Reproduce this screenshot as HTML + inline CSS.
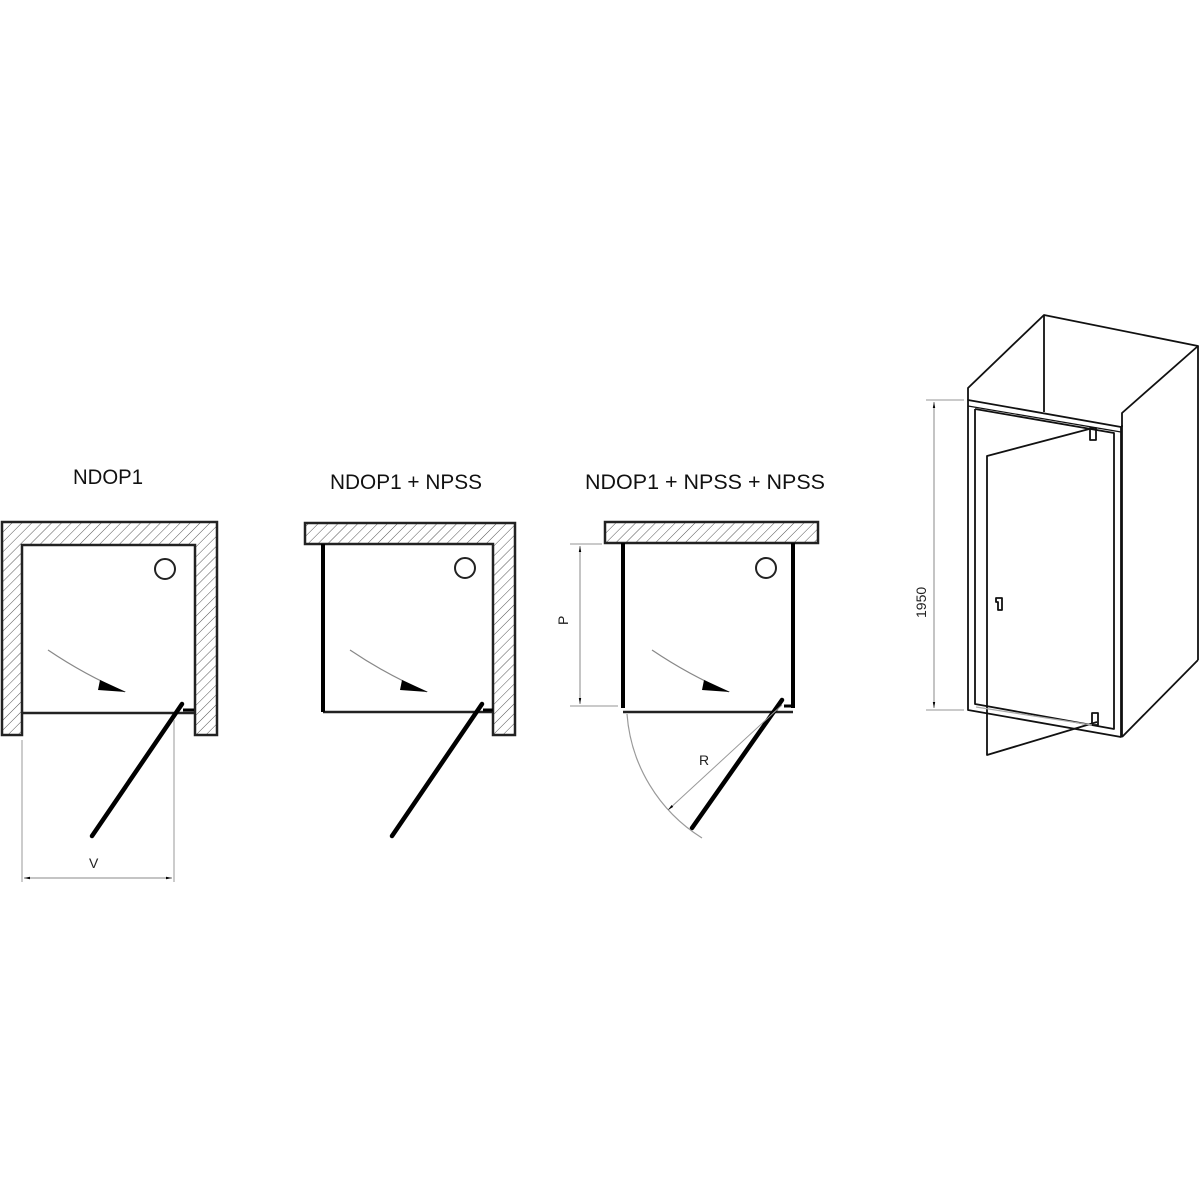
<!DOCTYPE html>
<html><head><meta charset="utf-8"><style>html,body{margin:0;padding:0;background:#fff}svg{display:block}</style></head>
<body>
<svg width="1200" height="1200" viewBox="0 0 1200 1200" xmlns="http://www.w3.org/2000/svg" font-family="Liberation Sans, sans-serif">
<defs>
<pattern id="h" patternUnits="userSpaceOnUse" width="7" height="7" patternTransform="rotate(45)">
<rect width="7" height="7" fill="#fff"/><line x1="0" y1="0" x2="0" y2="7" stroke="#555" stroke-width="1"/>
</pattern>
<marker id="sm" viewBox="0 0 10 10" refX="10" refY="5" markerWidth="10" markerHeight="6" orient="auto-start-reverse" markerUnits="userSpaceOnUse"><path d="M0,3 L10,5 L0,7 z" fill="#000"/></marker>
</defs>
<g font-size="21" fill="#111">
<text x="73" y="484" textLength="70" lengthAdjust="spacingAndGlyphs">NDOP1</text>
<text x="330" y="489" textLength="152" lengthAdjust="spacingAndGlyphs">NDOP1 + NPSS</text>
<text x="585" y="489" textLength="240" lengthAdjust="spacingAndGlyphs">NDOP1 + NPSS + NPSS</text>
</g>
<!-- Diagram 1 -->
<path d="M2,522 H217 V735 H195 V545 H22 V735 H2 Z" fill="url(#h)" stroke="#222" stroke-width="2.5"/>
<line x1="22" y1="713" x2="195" y2="713" stroke="#222" stroke-width="2.5"/>
<circle cx="165" cy="569" r="10" fill="none" stroke="#222" stroke-width="2"/>
<path d="M48,650 Q85,675 125,692" fill="none" stroke="#888" stroke-width="1.2"/>
<path d="M100,680 L126,692 L98,690 Z" fill="#000"/>
<line x1="182" y1="704" x2="92" y2="836" stroke="#000" stroke-width="4.5" stroke-linecap="round"/>
<line x1="183" y1="710" x2="194" y2="710" stroke="#000" stroke-width="3"/>
<line x1="22" y1="740" x2="22" y2="882" stroke="#aaa" stroke-width="1.2"/>
<line x1="174" y1="720" x2="174" y2="882" stroke="#aaa" stroke-width="1.2"/>
<line x1="24" y1="878" x2="172" y2="878" stroke="#888" stroke-width="1" marker-start="url(#sm)" marker-end="url(#sm)"/>
<text x="89" y="868" font-size="14" fill="#222">V</text>
<!-- Diagram 2 -->
<path d="M305,523 H515 V735 H493 V544 H305 Z" fill="url(#h)" stroke="#222" stroke-width="2.5"/>
<line x1="323" y1="712" x2="493" y2="712" stroke="#222" stroke-width="2.5"/>
<line x1="323" y1="544" x2="323" y2="712" stroke="#000" stroke-width="4"/>
<circle cx="465" cy="568" r="10" fill="none" stroke="#222" stroke-width="2"/>
<path d="M350,650 Q387,675 427,692" fill="none" stroke="#888" stroke-width="1.2"/>
<path d="M402,680 L428,692 L400,690 Z" fill="#000"/>
<line x1="482" y1="704" x2="392" y2="836" stroke="#000" stroke-width="4.5" stroke-linecap="round"/>
<line x1="483" y1="710" x2="493" y2="710" stroke="#000" stroke-width="3"/>
<!-- Diagram 3 -->
<rect x="605" y="522" width="213" height="21" fill="url(#h)" stroke="#222" stroke-width="2.5"/>
<line x1="623" y1="712" x2="793" y2="712" stroke="#222" stroke-width="2.5"/>
<line x1="623" y1="543" x2="623" y2="708" stroke="#000" stroke-width="4"/>
<line x1="793" y1="543" x2="793" y2="708" stroke="#000" stroke-width="4"/>
<circle cx="766" cy="568" r="10" fill="none" stroke="#222" stroke-width="2"/>
<path d="M652,650 Q689,675 729,692" fill="none" stroke="#888" stroke-width="1.2"/>
<path d="M704,680 L730,692 L702,690 Z" fill="#000"/>
<line x1="782" y1="700" x2="692" y2="828" stroke="#000" stroke-width="4.5" stroke-linecap="round"/>
<line x1="784" y1="706" x2="793" y2="706" stroke="#000" stroke-width="3"/>
<path d="M627,714 A160,160 0 0 0 702,838" fill="none" stroke="#999" stroke-width="1.2"/>
<line x1="782" y1="705" x2="668" y2="810" stroke="#999" stroke-width="1" marker-end="url(#sm)"/>
<text x="699" y="765" font-size="14" fill="#222">R</text>
<line x1="570" y1="544" x2="602" y2="544" stroke="#aaa" stroke-width="1.2"/>
<line x1="570" y1="706" x2="618" y2="706" stroke="#aaa" stroke-width="1.2"/>
<line x1="580" y1="546" x2="580" y2="704" stroke="#888" stroke-width="1" marker-start="url(#sm)" marker-end="url(#sm)"/>
<text transform="translate(568,625) rotate(-90)" font-size="14" fill="#222">P</text>
<!-- 3D -->
<g fill="none" stroke="#111" stroke-width="1.8" stroke-linejoin="round">
<polyline points="968,400 968,388 1044,315 1198,346 1122,413 1122,427"/>
<line x1="1044" y1="315" x2="1044" y2="412"/>
<line x1="1198" y1="346" x2="1198" y2="660"/>
<line x1="1198" y1="660" x2="1122" y2="737"/>
<line x1="1122" y1="425" x2="1122" y2="737"/>
<polygon points="968,400 1121,427 1121,737 968,710"/>
<polyline points="975,409 1114,433 1114,729 975,704 975,409"/>
<line x1="968" y1="406" x2="1121" y2="432" stroke-width="1.2"/>
<polyline points="1093,428 987,456 987,755 1097,722"/>
<rect x="1090" y="428" width="6" height="12"/>
<rect x="1092" y="713" width="6" height="12"/>
<path d="M996,598 h6 v12 h-4 v-8 h-2 z"/>
</g>
<line x1="976" y1="707" x2="1092" y2="725" stroke="#aaa" stroke-width="1.2"/>
<line x1="926" y1="400" x2="964" y2="400" stroke="#aaa" stroke-width="1.2"/>
<line x1="926" y1="710" x2="964" y2="710" stroke="#aaa" stroke-width="1.2"/>
<line x1="934" y1="402" x2="934" y2="708" stroke="#888" stroke-width="1" marker-start="url(#sm)" marker-end="url(#sm)"/>
<text transform="translate(926,618) rotate(-90)" font-size="14" fill="#222">1950</text>
</svg>
</body></html>
